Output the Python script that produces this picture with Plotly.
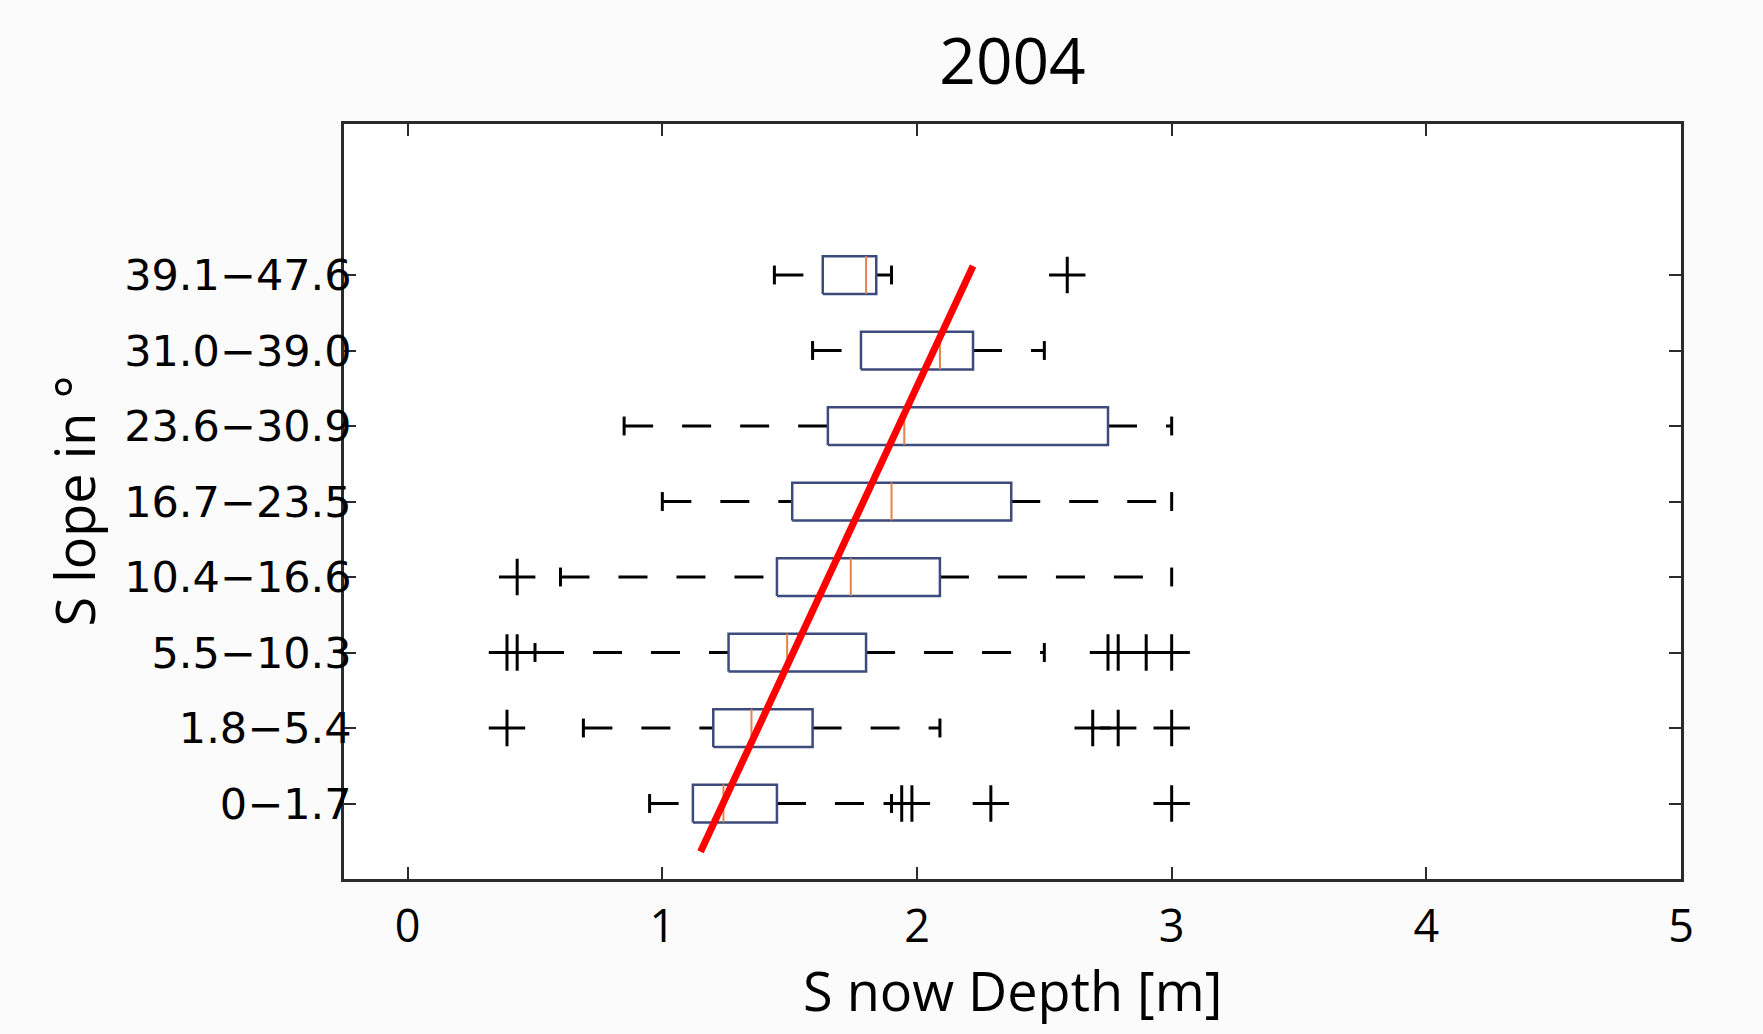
import plotly.graph_objects as go

# Slope classes (bottom to top) and box-plot statistics of snow depth [m]
slope_classes = ["0\u22121.7", "1.8\u22125.4", "5.5\u221210.3", "10.4\u221216.6",
                 "16.7\u221223.5", "23.6\u221230.9", "31.0\u221239.0", "39.1\u221247.6"]
lower_whisker = [0.95, 0.69, 0.50, 0.60, 1.00, 0.85, 1.59, 1.44]
q1 = [1.12, 1.20, 1.26, 1.45, 1.51, 1.65, 1.78, 1.63]
median = [1.24, 1.35, 1.49, 1.74, 1.90, 1.95, 2.09, 1.80]
q3 = [1.45, 1.59, 1.80, 2.09, 2.37, 2.75, 2.22, 1.84]
upper_whisker = [1.90, 2.09, 2.50, 3.00, 3.00, 3.00, 2.50, 1.90]
outliers = [
    [1.94, 1.98, 2.29, 3.00],
    [0.39, 2.69, 2.79, 3.00],
    [0.39, 0.43, 2.75, 2.79, 2.90, 3.00],
    [0.43],
    [],
    [],
    [],
    [2.59],
]

# Fitted trend of median depth against slope class
trend_depth = [1.15, 2.22]
trend_pos = [0.36, 8.12]

BOX_HALF = 0.25
CAP_HALF = 0.125
BOX_COLOR = "#3d4a7c"
MEDIAN_COLOR = "#e0844a"
TEXT_FONT = "Open Sans, Liberation Sans, sans-serif"

fig = go.Figure()

for i, name in enumerate(slope_classes):
    pos = i + 1
    # dashed whiskers
    fig.add_trace(go.Scatter(x=[lower_whisker[i], q1[i]], y=[pos, pos], mode="lines",
                             line=dict(color="black", width=3, dash="29px,29px"),
                             hoverinfo="skip", showlegend=False))
    fig.add_trace(go.Scatter(x=[q3[i], upper_whisker[i]], y=[pos, pos], mode="lines",
                             line=dict(color="black", width=3, dash="29px,29px"),
                             hoverinfo="skip", showlegend=False))
    # whisker caps
    fig.add_trace(go.Scatter(
        x=[lower_whisker[i], lower_whisker[i], None, upper_whisker[i], upper_whisker[i]],
        y=[pos - CAP_HALF, pos + CAP_HALF, None, pos - CAP_HALF, pos + CAP_HALF],
        mode="lines", line=dict(color="black", width=3),
        hoverinfo="skip", showlegend=False))
    # box
    fig.add_trace(go.Scatter(
        x=[q1[i], q3[i], q3[i], q1[i], q1[i]],
        y=[pos - BOX_HALF, pos - BOX_HALF, pos + BOX_HALF, pos + BOX_HALF, pos - BOX_HALF],
        mode="lines", line=dict(color=BOX_COLOR, width=2.5),
        hoverinfo="skip", showlegend=False))
    # median
    fig.add_trace(go.Scatter(x=[median[i], median[i]], y=[pos - BOX_HALF, pos + BOX_HALF],
                             mode="lines", line=dict(color=MEDIAN_COLOR, width=2),
                             hoverinfo="skip", showlegend=False))
    # outliers
    if outliers[i]:
        fig.add_trace(go.Scatter(x=outliers[i], y=[pos] * len(outliers[i]), mode="markers",
                                 marker=dict(symbol="cross-thin", size=26,
                                             line=dict(color="black", width=3)),
                                 hoverinfo="skip", showlegend=False))

fig.add_trace(go.Scatter(x=trend_depth, y=trend_pos, mode="lines",
                         line=dict(color="#ff0000", width=7),
                         hoverinfo="skip", showlegend=False))

axis_common = dict(showline=True, mirror="ticks", linecolor="#2b2b2b", linewidth=2.5,
                   ticks="inside", ticklen=12, tickwidth=2, tickcolor="#2b2b2b",
                   showgrid=False, zeroline=False)

fig.update_layout(
    width=1763, height=1034,
    margin=dict(l=344, r=82, t=124, b=155),
    paper_bgcolor="#fbfbfb", plot_bgcolor="white",
    title=dict(text="2004", x=0.5, xref="paper", xanchor="center",
               y=1 - 62 / 1034, yref="container", yanchor="middle",
               font=dict(family=TEXT_FONT, size=64, color="black")),
    xaxis=dict(range=[-0.25, 5], tickmode="linear", tick0=0, dtick=1,
               ticklabelstandoff=6,
               tickfont=dict(family=TEXT_FONT, size=45, color="black"),
               **axis_common),
    yaxis=dict(range=[0, 10], tickmode="array", tickvals=list(range(1, 9)),
               ticktext=slope_classes, ticklabelstandoff=-19,
               tickfont=dict(family="DejaVu Sans", size=43, color="black"),
               **axis_common),
    annotations=[
        dict(text="S now Depth [m]", x=0.5, xref="paper", y=0, yref="paper",
             xanchor="center", yanchor="middle", yshift=-111, showarrow=False,
             font=dict(family=TEXT_FONT, size=54, color="black")),
        dict(text="S lope in \u00b0", x=0, xref="paper", y=0.5, yref="paper",
             xanchor="center", yanchor="middle", xshift=-271, textangle=-90,
             showarrow=False, font=dict(family=TEXT_FONT, size=54, color="black")),
    ],
)

fig.write_html("out.html")
